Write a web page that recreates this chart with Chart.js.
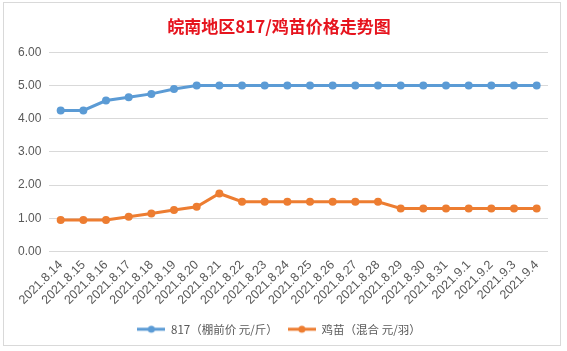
<!DOCTYPE html>
<html><head><meta charset="utf-8">
<script src="https://cdn.jsdelivr.net/npm/chart.js@4/dist/chart.umd.min.js"></script>
<style>
html,body{margin:0;padding:0;background:#fff;}
#wrap{position:absolute;left:0;top:0;width:567px;height:351px;}
#frame{position:absolute;left:3px;top:2px;width:558px;height:344px;border:1px solid #d9d9d9;box-sizing:border-box;}
canvas{position:absolute;left:0;top:0;}
</style></head>
<body>
<div id="wrap"><div id="frame"></div><canvas id="c" width="567" height="351"></canvas></div>
<script>
const categories = ["2021.8.14","2021.8.15","2021.8.16","2021.8.17","2021.8.18","2021.8.19","2021.8.20","2021.8.21","2021.8.22","2021.8.23","2021.8.24","2021.8.25","2021.8.26","2021.8.27","2021.8.28","2021.8.29","2021.8.30","2021.8.31","2021.9.1","2021.9.2","2021.9.3","2021.9.4"];
const price817 = [4.25,4.25,4.55,4.65,4.75,4.9,5,5,5,5,5,5,5,5,5,5,5,5,5,5,5,5];
const chickPrice = [0.95,0.95,0.95,1.05,1.15,1.25,1.35,1.75,1.5,1.5,1.5,1.5,1.5,1.5,1.5,1.3,1.3,1.3,1.3,1.3,1.3,1.3];
const yTicks = [0,1,2,3,4,5,6];
const seriesNames = ["817（棚前价 元/斤）","鸡苗（混合 元/羽）"];
const colors = ["#5b9bd5","#ed7d31"];

function legendIcon(color){
  const cv = document.createElement('canvas');
  cv.width = 28; cv.height = 10;
  const g = cv.getContext('2d');
  g.strokeStyle = color; g.lineWidth = 3;
  g.beginPath(); g.moveTo(0,5); g.lineTo(28,5); g.stroke();
  g.fillStyle = color;
  g.beginPath(); g.arc(14,5,3.5,0,Math.PI*2); g.fill();
  return cv;
}
const icons = colors.map(legendIcon);

new Chart(document.getElementById('c'), {
  type: 'line',
  data: {
    labels: categories,
    datasets: [
      {label: seriesNames[0], data: price817, borderColor: colors[0], backgroundColor: colors[0], borderWidth: 3, pointRadius: 4, pointBorderWidth: 0, pointHoverRadius: 4, tension: 0},
      {label: seriesNames[1], data: chickPrice, borderColor: colors[1], backgroundColor: colors[1], borderWidth: 3, pointRadius: 4, pointBorderWidth: 0, pointHoverRadius: 4, tension: 0}
    ]
  },
  options: {
    responsive: false,
    animation: false,
    layout: {padding: {left: 10, right: 19, top: 10, bottom: 6}},
    plugins: {
      title: {display: true, text: '皖南地区817/鸡苗价格走势图', color: '#e6141e',
        font: {family: '"Noto Sans CJK SC", sans-serif', size: 17, weight: 'bold'}, padding: {top: 6, bottom: 16}},
      legend: {position: 'bottom',
        labels: {usePointStyle: true, pointStyleWidth: 28, boxHeight: 10, color: '#595959', padding: 10,
          font: {family: '"Noto Sans CJK SC", sans-serif', size: 11.5},
          generateLabels: (chart) => chart.data.datasets.map((d,i)=>({text: d.label, fillStyle: colors[i], strokeStyle: colors[i], pointStyle: icons[i], fontColor: '#595959', lineWidth: 0, datasetIndex: i, hidden: false}))
        }},
      tooltip: {enabled: false}
    },
    scales: {
      x: {offset: true, grid: {display: false, drawTicks: false}, border: {display: false},
        ticks: {autoSkip: false, maxRotation: 45, minRotation: 45, color: '#595959', padding: 6,
          font: {family: '"Liberation Sans", Arial, sans-serif', size: 12.5}}},
      y: {min: 0, max: 6, afterBuildTicks: (a)=>{a.ticks = yTicks.map(v=>({value:v}));},
        grid: {color: '#d9d9d9', drawTicks: false}, border: {display: false},
        ticks: {color: '#595959', padding: 8, callback: v => v.toFixed(2),
          font: {family: '"Liberation Sans", Arial, sans-serif', size: 12}}}
    }
  }
});
</script>
</body></html>
